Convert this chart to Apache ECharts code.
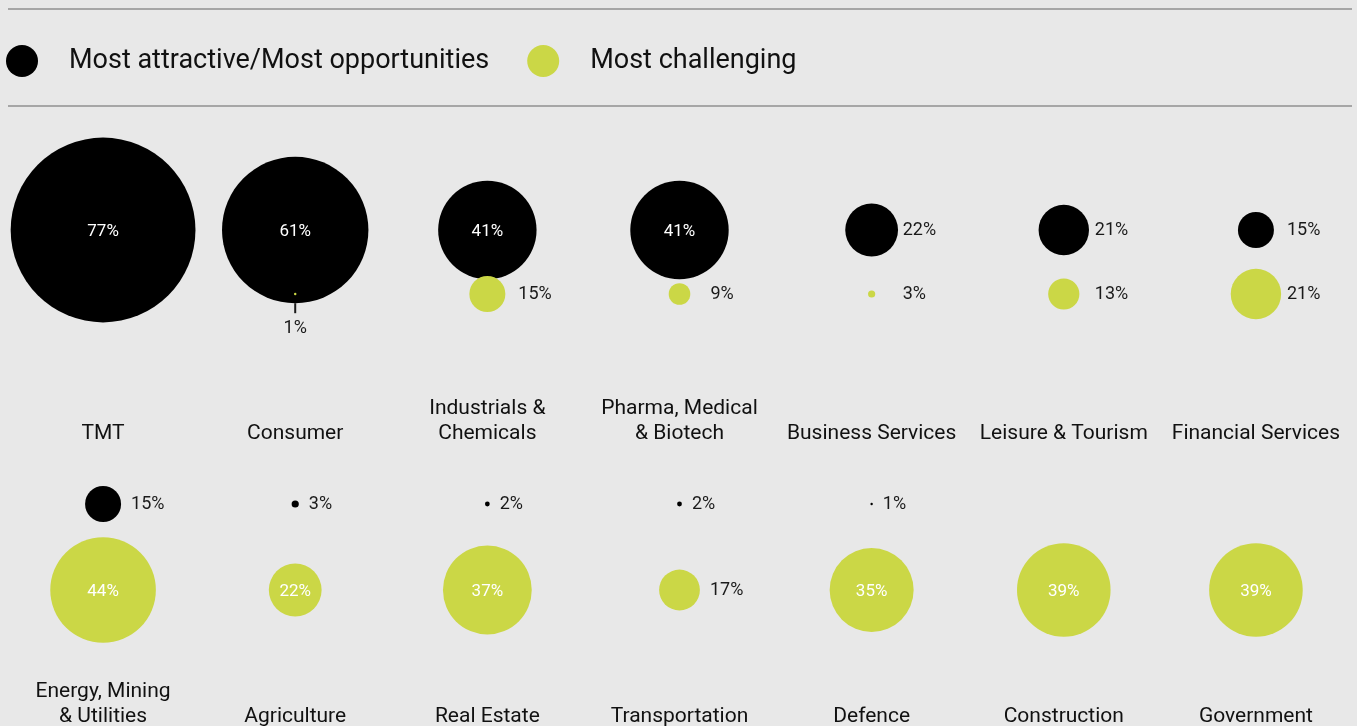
<!DOCTYPE html>
<html>
<head>
<meta charset="utf-8">
<title>Sector attractiveness</title>
<script src="https://cdn.jsdelivr.net/npm/echarts@6/dist/echarts.min.js"></script>
<style>
  html, body { margin: 0; padding: 0; background: #e8e8e8; }
  #chart { width: 1357px; height: 726px; }
</style>
</head>
<body>
<div id="chart"></div>
<script>
// data (percent of respondents)
const seriesNames = ['Most attractive/Most opportunities', 'Most challenging']

const rowOneCategories = ['TMT', 'Consumer', 'Industrials &\nChemicals', 'Pharma, Medical\n& Biotech', 'Business Services', 'Leisure & Tourism', 'Financial Services']
const rowOneAttractive = [77, 61, 41, 41, 22, 21, 15]
const rowOneChallenging = [null, 1, 15, 9, 3, 13, 21]

const rowTwoCategories = ['Energy, Mining\n& Utilities', 'Agriculture', 'Real Estate', 'Transportation', 'Defence', 'Construction', 'Government']
const rowTwoAttractive = [15, 3, 2, 2, 1, null, null]
const rowTwoChallenging = [44, 22, 37, 17, 35, 39, 39]

const BLACK = '#000000'
const GREEN = '#cbd746'
const PX_PER_POINT = 2.4 // bubble diameter per percent
const FONT = 'Roboto'

// each row is its own grid: black at the top edge, green at the bottom edge
const rows = [
  { top: 230, height: 64, labelMargin: 152, attractive: rowOneAttractive, challenging: rowOneChallenging, categories: rowOneCategories, aligned: true },
  { top: 504, height: 86, labelMargin: 139, attractive: rowTwoAttractive, challenging: rowTwoChallenging, categories: rowTwoCategories, aligned: false }
]

function outsideLabel(v, row) {
  const r = v * PX_PER_POINT / 2
  // row 1 labels sit at a fixed offset from the centre, row 2 just beside the edge
  const dist = row.aligned ? Math.max(31 - r, 4) : 10
  return {
    show: true,
    position: 'right',
    distance: dist,
    color: '#1a1a1a',
    fontSize: 18,
    fontFamily: FONT
  }
}

function insideLabel() {
  return { show: true, position: 'inside', offset: [0, 2], color: '#ffffff', fontSize: 17, fontFamily: FONT }
}

function buildData(values, level, row, insideFrom, other) {
  const out = []
  values.forEach((v, i) => {
    if (v == null) return
    let label = v >= insideFrom ? insideLabel() : outsideLabel(v, row)
    // green dot hidden under the black bubble: label drops below with a tick
    if (level === 1 && other[i] != null && other[i] * PX_PER_POINT / 2 > row.height) {
      label = {
        show: true,
        position: 'bottom',
        distance: 8,
        formatter: '{t| }\n{v|' + v + '%}',
        rich: {
          t: { width: 2, height: 10, backgroundColor: '#1a1a1a', align: 'center' },
          v: { fontSize: 18, lineHeight: 30, color: '#1a1a1a', fontFamily: FONT, align: 'center' }
        }
      }
    }
    out.push({ value: [i, level, v], label: label })
  })
  return out
}

const grids = []
const xAxes = []
const yAxes = []
const series = []

rows.forEach((row, g) => {
  grids.push({ left: 7, right: 5, top: row.top, height: row.height, outerBoundsMode: 'none', containLabel: false })
  xAxes.push({
    type: 'category',
    gridIndex: g,
    data: row.categories,
    boundaryGap: true,
    axisLine: { show: false },
    axisTick: { show: false },
    splitLine: { show: false },
    axisLabel: {
      interval: 0,
      margin: row.labelMargin,
      verticalAlign: 'bottom',
      fontSize: 21,
      lineHeight: 25,
      color: '#111111',
      fontFamily: FONT
    }
  })
  yAxes.push({ type: 'value', gridIndex: g, min: 0, max: 1, inverse: true, show: false })

  series.push({
    name: seriesNames[0],
    type: 'scatter',
    xAxisIndex: g,
    yAxisIndex: g,
    clip: false,
    symbolSize: val => val[2] * PX_PER_POINT,
    itemStyle: { color: BLACK, opacity: 1 },
    label: { formatter: p => p.value[2] + '%' },
    data: buildData(row.attractive, 0, row, 30, row.challenging)
  })
  series.push({
    name: seriesNames[1],
    type: 'scatter',
    xAxisIndex: g,
    yAxisIndex: g,
    clip: false,
    symbolSize: val => val[2] * PX_PER_POINT,
    itemStyle: { color: GREEN, opacity: 1 },
    label: { formatter: p => p.value[2] + '%' },
    data: buildData(row.challenging, 1, row, 22, row.attractive)
  })
})

const chart = echarts.init(document.getElementById('chart'))
chart.setOption({
  backgroundColor: '#e8e8e8',
  animation: false,
  legend: {
    data: seriesNames,
    left: 1,
    top: 40,
    icon: 'circle',
    itemWidth: 32,
    itemHeight: 32,
    itemGap: 38,
    textStyle: { fontSize: 27, color: '#111111', fontFamily: FONT, padding: [0, 0, 0, 26] }
  },
  graphic: [
    { type: 'line', shape: { x1: 8, y1: 9, x2: 1352, y2: 9 }, style: { stroke: '#a6a6a6', lineWidth: 2 } },
    { type: 'line', shape: { x1: 8, y1: 106, x2: 1352, y2: 106 }, style: { stroke: '#a6a6a6', lineWidth: 2 } }
  ],
  grid: grids,
  xAxis: xAxes,
  yAxis: yAxes,
  series: series
})
</script>
</body>
</html>
